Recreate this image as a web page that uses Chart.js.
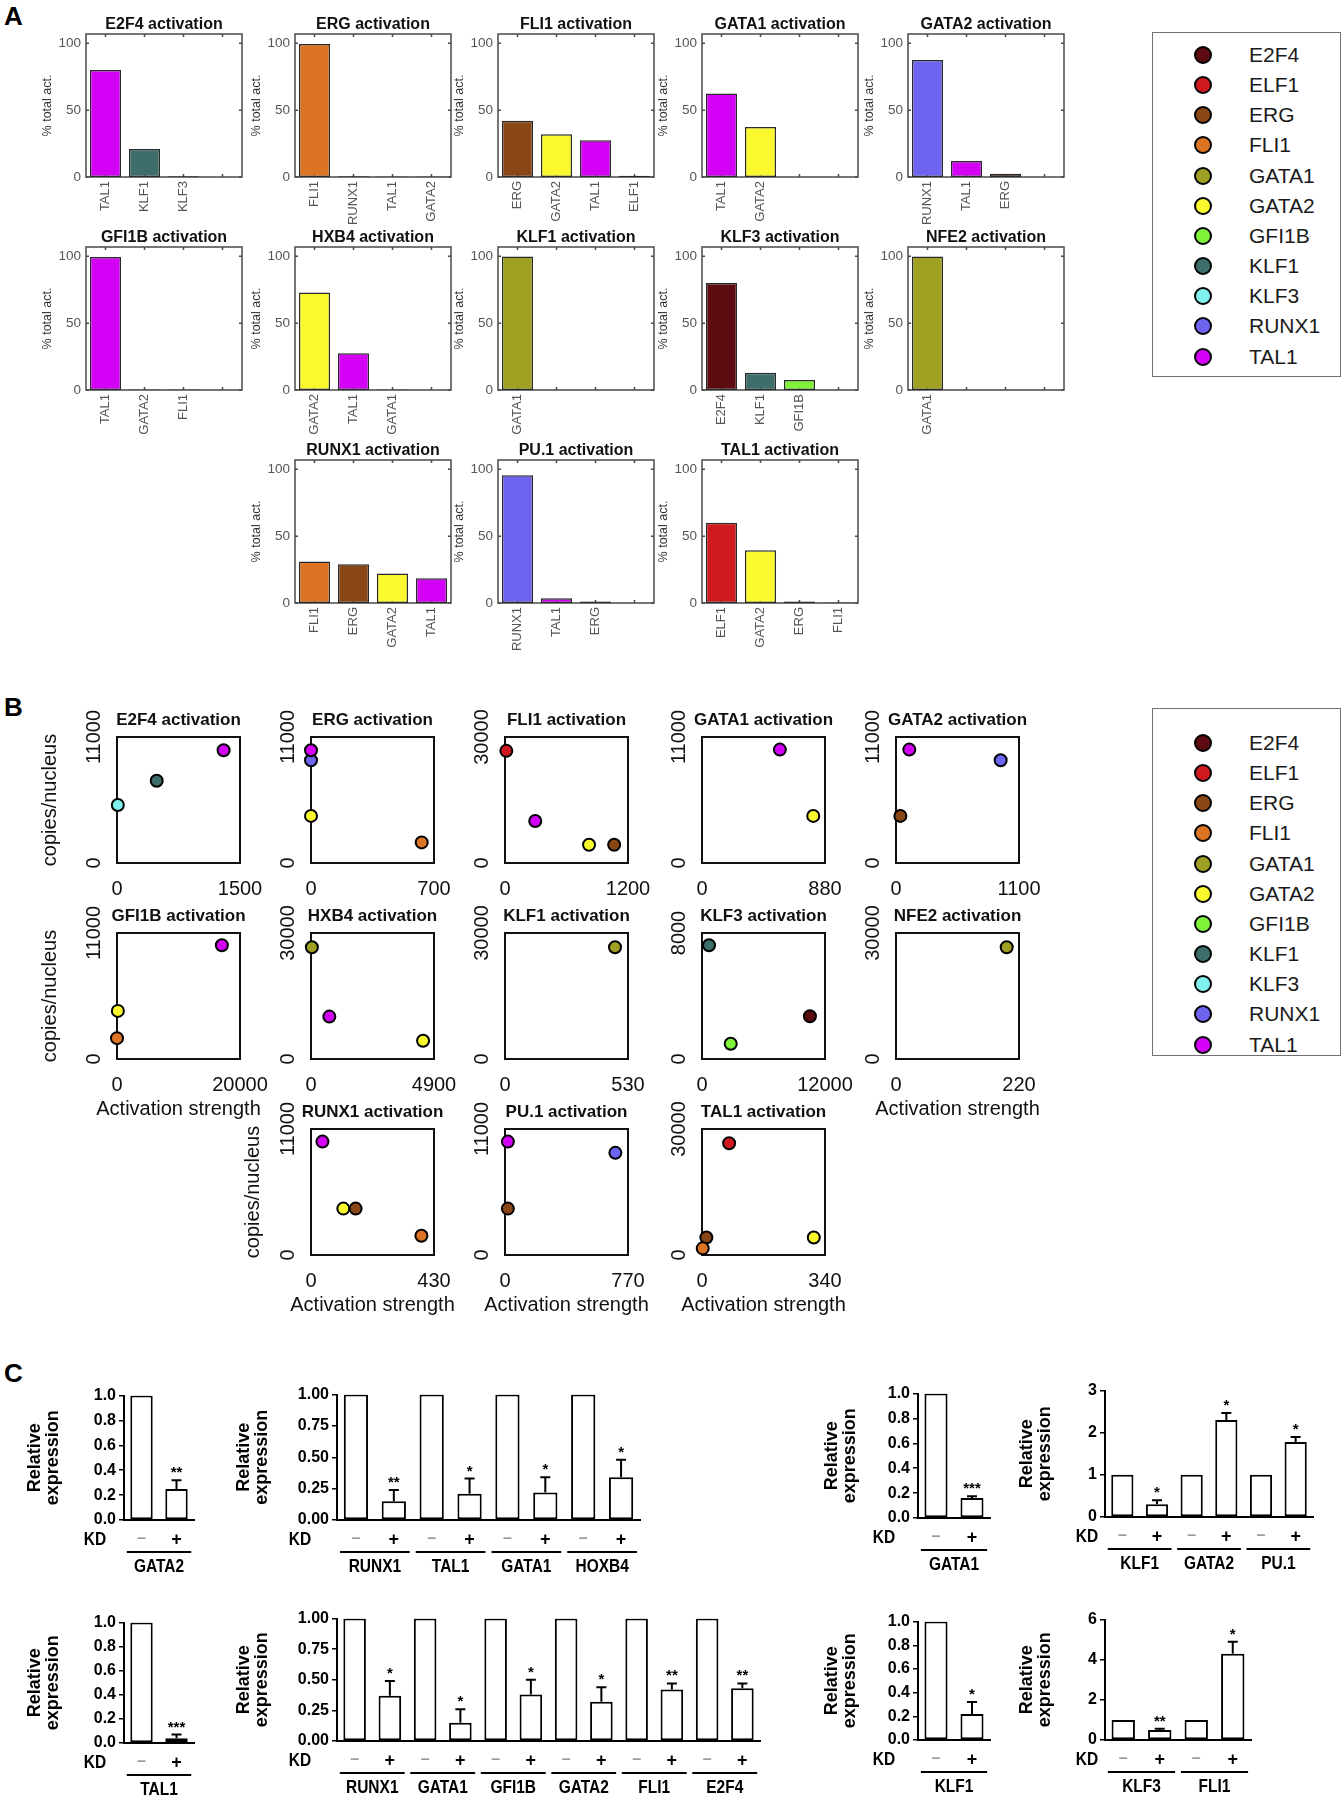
<!DOCTYPE html>
<html lang="en">
<head>
<meta charset="utf-8">
<title>Regulator activation and knockdown</title>
<script src="https://cdn.jsdelivr.net/npm/chart.js@4.4.1/dist/chart.umd.min.js"></script>
<style>
  html, body { margin: 0; background: #fff; }
  #page { position: relative; width: 1343px; height: 1800px; overflow: hidden;
          font-family: "Liberation Sans", Arial, Helvetica, sans-serif; color: #000; }
  .tag { position: absolute; left: 4px; font-size: 26px; line-height: 26px; font-weight: bold; }
  canvas.plot { position: absolute; }
  .legend { position: absolute; left: 1152px; width: 189px; border: 1.5px solid #707070; box-sizing: border-box; }
  .legend .row { position: absolute; left: 0; height: 0; }
  .legend .dot { position: absolute; left: 41px; top: -9px; width: 14px; height: 14px;
                 border: 2px solid #000; border-radius: 50%; }
  .legend .name { position: absolute; left: 96px; top: -12px; font-size: 21px; line-height: 24px;
                  white-space: nowrap; color: #1a1a1a; }
</style>
</head>
<body>
<div id="page">
  <div class="tag" style="top:3px">A</div>
  <div class="tag" style="top:694px">B</div>
  <div class="tag" style="top:1360px">C</div>
</div>
<script>
// ─── Regulators and colours ───────────────────────────────────────────────────
const factors = ['E2F4', 'ELF1', 'ERG', 'FLI1', 'GATA1', 'GATA2', 'GFI1B', 'KLF1', 'KLF3', 'RUNX1', 'TAL1'];
const factorColors = ['#5c0b10', '#d11a1f', '#8a4716', '#dd7424', '#a0a022', '#f9f92e',
                      '#7ff23a', '#3d6e6c', '#7ff0ef', '#6e64f0', '#d400f5'];

// ─── Panel A: % of total activation ───────────────────────────────────────────
const aE2F4Regs  = ['TAL1', 'KLF1', 'KLF3'];           const aE2F4Pct  = [80, 21, 0.5];
const aErgRegs   = ['FLI1', 'RUNX1', 'TAL1', 'GATA2'];  const aErgPct   = [99.5, 0.5, 0.4, 0.4];
const aFli1Regs  = ['ERG', 'GATA2', 'TAL1', 'ELF1'];    const aFli1Pct  = [42, 32, 27.5, 1];
const aGata1Regs = ['TAL1', 'GATA2'];                   const aGata1Pct = [62.5, 37.5];
const aGata2Regs = ['RUNX1', 'TAL1', 'ERG'];            const aGata2Pct = [87.5, 12, 2.5];
const aGfi1bRegs = ['TAL1', 'GATA2', 'FLI1'];           const aGfi1bPct = [99.6, 0.3, 0.3];
const aHxb4Regs  = ['GATA2', 'TAL1', 'GATA1'];          const aHxb4Pct  = [73, 27.5, 0.4];
const aKlf1Regs  = ['GATA1'];                           const aKlf1Pct  = [99.8];
const aKlf3Regs  = ['E2F4', 'KLF1', 'GFI1B'];           const aKlf3Pct  = [80, 13, 7.5];
const aNfe2Regs  = ['GATA1'];                           const aNfe2Pct  = [99.8];
const aRunx1Regs = ['FLI1', 'ERG', 'GATA2', 'TAL1'];    const aRunx1Pct = [31, 29, 22, 18.5];
const aPu1Regs   = ['RUNX1', 'TAL1', 'ERG'];            const aPu1Pct   = [95.5, 3.5, 1.2];
const aTal1Regs  = ['ELF1', 'GATA2', 'ERG', 'FLI1'];    const aTal1Pct  = [60, 39.5, 1.2, 0.4];
const aTicks = [0, 50, 100];

// ─── Panel B: activation strength vs copies/nucleus ───────────────────────────
const bE2F4Regs  = ['KLF3', 'KLF1', 'TAL1'];          const bE2F4Act  = [10, 484, 1300];     const bE2F4Copies  = [5070, 7180, 9840];
const bErgRegs   = ['GATA2', 'RUNX1', 'TAL1', 'FLI1']; const bErgAct   = [0, 0, 0, 630];       const bErgCopies   = [4110, 8970, 9840, 1800];
const bFli1Regs  = ['ELF1', 'TAL1', 'GATA2', 'ERG'];  const bFli1Act  = [13, 295, 820, 1065]; const bFli1Copies  = [26700, 10000, 4340, 4340];
const bGata1Regs = ['TAL1', 'GATA2'];                 const bGata1Act = [557, 796];           const bGata1Copies = [9900, 4110];
const bGata2Regs = ['TAL1', 'RUNX1', 'ERG'];          const bGata2Act = [119, 936, 39];       const bGata2Copies = [9900, 8970, 4110];
const bGfi1bRegs = ['TAL1', 'GATA2', 'FLI1'];         const bGfi1bAct = [17050, 140, 0];      const bGfi1bCopies = [9930, 4200, 1820];
const bHxb4Regs  = ['GATA1', 'TAL1', 'GATA2'];        const bHxb4Act  = [35, 730, 4465];      const bHxb4Copies  = [26600, 10100, 4340];
const bKlf1Regs  = ['GATA1'];                         const bKlf1Act  = [474];                const bKlf1Copies  = [26600];
const bKlf3Regs  = ['KLF1', 'E2F4', 'GFI1B'];         const bKlf3Act  = [685, 10530, 2800];   const bKlf3Copies  = [7220, 2710, 970];
const bNfe2Regs  = ['GATA1'];                         const bNfe2Act  = [198];                const bNfe2Copies  = [26600];
const bRunx1Regs = ['TAL1', 'GATA2', 'ERG', 'FLI1'];  const bRunx1Act = [40, 113, 156, 386]; const bRunx1Copies = [9900, 4050, 4050, 1680];
const bPu1Regs   = ['TAL1', 'RUNX1', 'ERG'];          const bPu1Act   = [18, 691, 18];        const bPu1Copies   = [9900, 8920, 4050];
const bTal1Regs  = ['ELF1', 'ERG', 'FLI1', 'GATA2'];  const bTal1Act  = [75, 12, 2, 309];     const bTal1Copies  = [26600, 4180, 1580, 4180];
// axis limits [activation max, copies max]
const bE2F4Lim = [1500, 11000];  const bErgLim  = [700, 11000];   const bFli1Lim  = [1200, 30000];
const bGata1Lim = [880, 11000];  const bGata2Lim = [1100, 11000]; const bGfi1bLim = [20000, 11000];
const bHxb4Lim = [4900, 30000];  const bKlf1Lim = [530, 30000];   const bKlf3Lim  = [12000, 8000];
const bNfe2Lim = [220, 30000];   const bRunx1Lim = [430, 11000];  const bPu1Lim   = [770, 11000];
const bTal1Lim = [340, 30000];

// ─── Panel C: relative expression, control (–) vs knockdown (+) ──────────────
const cGata2Genes = ['GATA2'];                           const cGata2Ctrl = [1];          const cGata2Kd = [0.25];         const cGata2Err = [0.07];         const cGata2Sig = ['**'];
const cMixAGenes  = ['RUNX1', 'TAL1', 'GATA1', 'HOXB4']; const cMixACtrl  = [1, 1, 1, 1];  const cMixAKd  = [0.15, 0.21, 0.22, 0.34]; const cMixAErr = [0.09, 0.12, 0.12, 0.14]; const cMixASig = ['**', '*', '*', '*'];
const cTal1Genes  = ['TAL1'];                            const cTal1Ctrl  = [1];          const cTal1Kd  = [0.04];         const cTal1Err  = [0.03];         const cTal1Sig  = ['***'];
const cMixBGenes  = ['RUNX1', 'GATA1', 'GFI1B', 'GATA2', 'FLI1', 'E2F4'];
const cMixBCtrl   = [1, 1, 1, 1, 1, 1];
const cMixBKd     = [0.37, 0.15, 0.38, 0.32, 0.42, 0.43];
const cMixBErr    = [0.12, 0.11, 0.12, 0.12, 0.05, 0.04];
const cMixBSig    = ['*', '*', '*', '*', '**', '**'];
const cGata1Genes = ['GATA1'];                           const cGata1Ctrl = [1];          const cGata1Kd = [0.16];         const cGata1Err = [0.015];        const cGata1Sig = ['***'];
const cMixCGenes  = ['KLF1', 'GATA2', 'PU.1'];           const cMixCCtrl  = [1, 1, 1];    const cMixCKd  = [0.3, 2.3, 1.78]; const cMixCErr = [0.1, 0.17, 0.12]; const cMixCSig = ['*', '*', '*'];
const cKlf1Genes  = ['KLF1'];                            const cKlf1Ctrl  = [1];          const cKlf1Kd  = [0.22];         const cKlf1Err  = [0.1];          const cKlf1Sig  = ['*'];
const cMixDGenes  = ['KLF3', 'FLI1'];                    const cMixDCtrl  = [1, 1];       const cMixDKd  = [0.5, 4.3];     const cMixDErr  = [0.06, 0.6];    const cMixDSig  = ['**', '*'];

// ─── Shared setup ─────────────────────────────────────────────────────────────
const SANS = '"Liberation Sans", Arial, Helvetica, sans-serif';
const page = document.getElementById('page');
const colorOf = name => factorColors[factors.indexOf(name)];

Chart.defaults.font.family = SANS;
Chart.defaults.color = '#000';
Chart.defaults.animation = false;
Chart.defaults.responsive = false;
Chart.defaults.devicePixelRatio = 1;
Chart.defaults.plugins.legend.display = false;
Chart.defaults.plugins.tooltip.enabled = false;

function makeCanvas(left, top, w, h, T, R, B, L) {
  const c = document.createElement('canvas');
  c.className = 'plot';
  c.width = w + L + R;
  c.height = h + T + B;
  c.style.left = (left - L) + 'px';
  c.style.top = (top - T) + 'px';
  c.style.width = c.width + 'px';
  c.style.height = c.height + 'px';
  page.appendChild(c);
  return c;
}

// frame, inner ticks, titles, rotated y labels
const decor = {
  id: 'decor',
  beforeDatasetsDraw(chart, args, o) {
    const { ctx, chartArea: a } = chart;
    ctx.save();
    ctx.strokeStyle = o.frame || '#000';
    ctx.lineWidth = o.frameWidth || 1.5;
    ctx.strokeRect(a.left, a.top, a.right - a.left, a.bottom - a.top);
    if (o.innerTicks) {
      const xs = chart.scales.x, ys = chart.scales.y, len = o.innerTicks;
      ctx.beginPath();
      xs.ticks.forEach((t, i) => {
        const px = xs.getPixelForTick(i);
        ctx.moveTo(px, a.bottom); ctx.lineTo(px, a.bottom - len);
        ctx.moveTo(px, a.top); ctx.lineTo(px, a.top + len);
      });
      ys.ticks.forEach((t, i) => {
        const py = ys.getPixelForTick(i);
        ctx.moveTo(a.left, py); ctx.lineTo(a.left + len, py);
        ctx.moveTo(a.right, py); ctx.lineTo(a.right - len, py);
      });
      ctx.stroke();
    }
    ctx.restore();
  },
  afterDraw(chart, args, o) {
    const { ctx, chartArea: a } = chart;
    const cx = (a.left + a.right) / 2;
    ctx.save();
    ctx.textAlign = 'center';
    ctx.textBaseline = 'middle';
    ctx.fillStyle = '#111';
    if (o.title) {
      ctx.font = o.titleFont;
      ctx.fillText(o.title, cx, a.top - o.titleGap);
    }
    if (o.xTitle) {
      ctx.font = o.xTitleFont;
      ctx.fillText(o.xTitle, cx, a.bottom + o.xTitleGap);
    }
    if (o.yTickGap) {
      const ys = chart.scales.y;
      ctx.font = o.yTickFont;
      ys.ticks.forEach((t, i) => {
        ctx.save();
        ctx.translate(a.left - o.yTickGap, ys.getPixelForTick(i));
        ctx.rotate(-Math.PI / 2);
        ctx.fillText(String(t.value), 0, 0);
        ctx.restore();
      });
    }
    ctx.restore();
  }
};

// error bars, significance marks, KD row and gene groups
const kdAxis = {
  id: 'kdAxis',
  afterDatasetsDraw(chart, args, o) {
    const { ctx, chartArea: a } = chart;
    const xs = chart.scales.x, ys = chart.scales.y;
    const ds = chart.data.datasets[0];
    const squeezed = (txt, x, y) => {
      ctx.save();
      ctx.translate(x, y);
      ctx.scale(o.squeeze, 1);
      ctx.fillText(txt, 0, 0);
      ctx.restore();
    };
    ctx.save();
    ctx.strokeStyle = '#000';
    ctx.fillStyle = '#000';
    ctx.lineWidth = 2;
    ds.data.forEach((v, i) => {
      const e = ds.errors[i];
      if (!e) return;
      const px = xs.getPixelForValue(i);
      const top = ys.getPixelForValue(v + e);
      ctx.beginPath();
      ctx.moveTo(px, ys.getPixelForValue(v));
      ctx.lineTo(px, top);
      ctx.moveTo(px - o.cap, top);
      ctx.lineTo(px + o.cap, top);
      ctx.stroke();
      if (ds.marks[i]) {
        ctx.font = o.markFont;
        ctx.textAlign = 'center';
        ctx.textBaseline = 'alphabetic';
        ctx.fillText(ds.marks[i], px, top - 3);
      }
    });
    ctx.font = o.font;
    ctx.textAlign = 'center';
    ctx.textBaseline = 'middle';
    squeezed(o.kd, a.left - o.kdDx, a.bottom + o.rowGap);
    o.genes.forEach((g, i) => {
      const x0 = xs.getPixelForValue(2 * i), x1 = xs.getPixelForValue(2 * i + 1);
      const ext = (x1 - x0) * 0.42;
      ctx.beginPath();
      ctx.moveTo(x0 - ext, a.bottom + o.lineGap);
      ctx.lineTo(x1 + ext, a.bottom + o.lineGap);
      ctx.stroke();
      squeezed(g, (x0 + x1) / 2, a.bottom + o.nameGap);
    });
    ctx.restore();
  }
};

// ─── Panel A builder ──────────────────────────────────────────────────────────
const aCols = [86, 295, 498, 702, 908], aRows = [34, 247, 460], aW = 156, aH = 143;

function barA(col, row, title, regs, pct) {
  const T = 30, R = 10, B = 50, L = 62;
  const c = makeCanvas(aCols[col], aRows[row], aW, aH, T, R, B, L);
  const labels = regs.concat(Array(4 - regs.length).fill(''));
  new Chart(c, {
    type: 'bar',
    data: {
      labels,
      datasets: [{
        data: pct, backgroundColor: regs.map(colorOf), borderColor: '#2a2a2a', borderWidth: 1.5,
        borderSkipped: false, barPercentage: 0.8, categoryPercentage: 1
      }]
    },
    options: {
      layout: { padding: { top: T, right: R, bottom: 0, left: 0 } },
      scales: {
        x: {
          grid: { display: false, drawTicks: false }, border: { display: false },
          ticks: { autoSkip: false, minRotation: 90, maxRotation: 90, padding: 4, color: '#555', font: { size: 13 } },
          afterFit: s => { s.height = B; }
        },
        y: {
          min: 0, max: 107,
          afterBuildTicks: s => { s.ticks = aTicks.map(v => ({ value: v })); },
          grid: { display: false, drawTicks: false }, border: { display: false },
          ticks: { padding: 5, color: '#555', font: { size: 13.5 } },
          title: { display: true, text: '% total act.', color: '#333', font: { size: 12.5 }, padding: { top: 16, bottom: 0 } },
          afterFit: s => { s.width = L; }
        }
      },
      plugins: {
        decor: { title, titleGap: 9, titleFont: `bold 16px ${SANS}`, frame: '#4a4a4a', frameWidth: 1.5, innerTicks: 3 }
      }
    },
    plugins: [decor]
  });
}

barA(0, 0, 'E2F4 activation', aE2F4Regs, aE2F4Pct);
barA(1, 0, 'ERG activation', aErgRegs, aErgPct);
barA(2, 0, 'FLI1 activation', aFli1Regs, aFli1Pct);
barA(3, 0, 'GATA1 activation', aGata1Regs, aGata1Pct);
barA(4, 0, 'GATA2 activation', aGata2Regs, aGata2Pct);
barA(0, 1, 'GFI1B activation', aGfi1bRegs, aGfi1bPct);
barA(1, 1, 'HXB4 activation', aHxb4Regs, aHxb4Pct);
barA(2, 1, 'KLF1 activation', aKlf1Regs, aKlf1Pct);
barA(3, 1, 'KLF3 activation', aKlf3Regs, aKlf3Pct);
barA(4, 1, 'NFE2 activation', aNfe2Regs, aNfe2Pct);
barA(1, 2, 'RUNX1 activation', aRunx1Regs, aRunx1Pct);
barA(2, 2, 'PU.1 activation', aPu1Regs, aPu1Pct);
barA(3, 2, 'TAL1 activation', aTal1Regs, aTal1Pct);

// ─── Panel B builder ──────────────────────────────────────────────────────────
const bCols = [117, 311, 505, 702, 896], bRows = [737, 933, 1129], bW = 123, bH = 126;

function scatterB(col, row, title, regs, act, copies, lim, opt) {
  const hasY = opt.yTitlePad !== undefined;
  const T = 32, R = 45, B = 66, L = hasY ? 80 : 45;
  const c = makeCanvas(bCols[col], bRows[row], bW, bH, T, R, B, L);
  new Chart(c, {
    type: 'scatter',
    data: {
      datasets: [{
        data: act.map((x, i) => ({ x, y: copies[i] })),
        pointRadius: 6, pointBorderWidth: 2, pointBorderColor: '#000',
        pointBackgroundColor: regs.map(colorOf), clip: false
      }]
    },
    options: {
      layout: { padding: { top: T, right: R, bottom: 0, left: 0 } },
      scales: {
        x: {
          type: 'linear', min: 0, max: lim[0],
          afterBuildTicks: s => { s.ticks = [{ value: 0 }, { value: lim[0] }]; },
          grid: { display: false, drawTicks: false }, border: { display: false },
          ticks: { callback: v => String(v), maxRotation: 0, autoSkip: false, padding: 14, color: '#111', font: { size: 20 } },
          afterFit: s => { s.height = B; }
        },
        y: {
          type: 'linear', min: 0, max: lim[1],
          afterBuildTicks: s => { s.ticks = [{ value: 0 }, { value: lim[1] }]; },
          grid: { display: false, drawTicks: false }, border: { display: false },
          ticks: { display: false },
          title: { display: hasY, text: 'copies/nucleus', color: '#111', font: { size: 20 },
                   padding: { top: hasY ? opt.yTitlePad : 0, bottom: 0 } },
          afterFit: s => { s.width = L; }
        }
      },
      plugins: {
        decor: {
          title, titleGap: 17, titleFont: `bold 17px ${SANS}`, frame: '#111', frameWidth: 2,
          xTitle: opt.xTitle ? 'Activation strength' : '', xTitleGap: 50, xTitleFont: `20px ${SANS}`,
          yTickGap: 23, yTickFont: `20px ${SANS}`
        }
      }
    },
    plugins: [decor]
  });
}

scatterB(0, 0, 'E2F4 activation', bE2F4Regs, bE2F4Act, bE2F4Copies, bE2F4Lim, { yTitlePad: 1 });
scatterB(1, 0, 'ERG activation', bErgRegs, bErgAct, bErgCopies, bErgLim, {});
scatterB(2, 0, 'FLI1 activation', bFli1Regs, bFli1Act, bFli1Copies, bFli1Lim, {});
scatterB(3, 0, 'GATA1 activation', bGata1Regs, bGata1Act, bGata1Copies, bGata1Lim, {});
scatterB(4, 0, 'GATA2 activation', bGata2Regs, bGata2Act, bGata2Copies, bGata2Lim, {});
scatterB(0, 1, 'GFI1B activation', bGfi1bRegs, bGfi1bAct, bGfi1bCopies, bGfi1bLim, { yTitlePad: 1, xTitle: true });
scatterB(1, 1, 'HXB4 activation', bHxb4Regs, bHxb4Act, bHxb4Copies, bHxb4Lim, {});
scatterB(2, 1, 'KLF1 activation', bKlf1Regs, bKlf1Act, bKlf1Copies, bKlf1Lim, {});
scatterB(3, 1, 'KLF3 activation', bKlf3Regs, bKlf3Act, bKlf3Copies, bKlf3Lim, {});
scatterB(4, 1, 'NFE2 activation', bNfe2Regs, bNfe2Act, bNfe2Copies, bNfe2Lim, { xTitle: true });
scatterB(1, 2, 'RUNX1 activation', bRunx1Regs, bRunx1Act, bRunx1Copies, bRunx1Lim, { yTitlePad: 10, xTitle: true });
scatterB(2, 2, 'PU.1 activation', bPu1Regs, bPu1Act, bPu1Copies, bPu1Lim, { xTitle: true });
scatterB(3, 2, 'TAL1 activation', bTal1Regs, bTal1Act, bTal1Copies, bTal1Lim, { xTitle: true });

// ─── Legends ──────────────────────────────────────────────────────────────────
function legend(top, height, firstY) {
  const box = document.createElement('div');
  box.className = 'legend';
  box.style.top = top + 'px';
  box.style.height = height + 'px';
  factors.forEach((f, i) => {
    const row = document.createElement('div');
    row.className = 'row';
    row.style.top = (firstY - top + i * 30.15) + 'px';
    row.innerHTML = `<span class="dot" style="background:${factorColors[i]}"></span><span class="name">${f}</span>`;
    box.appendChild(row);
  });
  page.appendChild(box);
}
legend(32, 345, 54);
legend(708, 348, 742);

// ─── Panel C builder ──────────────────────────────────────────────────────────
function kdBars(box, genes, ctrl, kd, err, sig, ax) {
  const T = 12, R = 12, B = 62, L = 104;
  const c = makeCanvas(box[0], box[1], box[2], box[3], T, R, B, L);
  const labels = [], values = [], errors = [], marks = [];
  genes.forEach((g, i) => {
    labels.push('–', '+');
    values.push(ctrl[i], kd[i]);
    errors.push(0, err[i]);
    marks.push('', sig[i]);
  });
  const isPlus = cx => cx.tick && cx.tick.label === '+';
  new Chart(c, {
    type: 'bar',
    data: {
      labels,
      datasets: [{
        data: values, errors, marks, backgroundColor: '#fff', borderColor: '#000', borderWidth: 2,
        borderSkipped: false, barPercentage: 0.64, categoryPercentage: 1
      }]
    },
    options: {
      layout: { padding: { top: T, right: R, bottom: 0, left: 0 } },
      scales: {
        x: {
          grid: { display: false, drawTicks: false },
          border: { display: true, color: '#000', width: 2 },
          ticks: {
            autoSkip: false, maxRotation: 0, padding: 9,
            color: cx => isPlus(cx) ? '#000' : '#9a9a9a',
            font: cx => ({ weight: 'bold', size: isPlus(cx) ? 18 : 16 })
          },
          afterFit: s => { s.height = B; }
        },
        y: {
          min: 0, max: ax.max,
          ticks: { stepSize: ax.step, callback: v => v.toFixed(ax.dec), padding: 3, color: '#000',
                   font: { weight: 'bold', size: 16 } },
          grid: { display: true, drawOnChartArea: false, drawTicks: true, tickLength: 5, color: '#000', lineWidth: 1.5 },
          border: { display: true, color: '#000', width: 2 },
          title: { display: true, text: ['Relative', 'expression'], color: '#000',
                   font: { weight: 'bold', size: 18, lineHeight: 1.0 },
                   padding: { top: ax.titlePad, bottom: 0 } },
          afterFit: s => { s.width = L; }
        }
      },
      plugins: {
        kdAxis: { genes, kd: 'KD', kdDx: ax.kdDx, rowGap: 20, lineGap: 32, nameGap: 47, cap: 5, squeeze: 0.86,
                  font: `bold 18px ${SANS}`, markFont: `bold 15px ${SANS}` }
      }
    },
    plugins: [kdAxis]
  });
}

kdBars([124, 1395, 70, 125], cGata2Genes, cGata2Ctrl, cGata2Kd, cGata2Err, cGata2Sig, { max: 1, step: 0.2, dec: 1, kdDx: 29, titlePad: 6 });
kdBars([337, 1394, 303, 126], cMixAGenes, cMixACtrl, cMixAKd, cMixAErr, cMixASig, { max: 1, step: 0.25, dec: 2, kdDx: 37, titlePad: 2 });
kdBars([124, 1622, 70, 121], cTal1Genes, cTal1Ctrl, cTal1Kd, cTal1Err, cTal1Sig, { max: 1, step: 0.2, dec: 1, kdDx: 29, titlePad: 6 });
kdBars([337, 1618, 423, 123], cMixBGenes, cMixBCtrl, cMixBKd, cMixBErr, cMixBSig, { max: 1, step: 0.25, dec: 2, kdDx: 37, titlePad: 2 });
kdBars([918, 1393, 72, 125], cGata1Genes, cGata1Ctrl, cGata1Kd, cGata1Err, cGata1Sig, { max: 1, step: 0.2, dec: 1, kdDx: 34, titlePad: 9 });
kdBars([1105, 1390, 208, 127], cMixCGenes, cMixCCtrl, cMixCKd, cMixCErr, cMixCSig, { max: 3, step: 1, dec: 0, kdDx: 18, titlePad: 17 });
kdBars([918, 1621, 72, 119], cKlf1Genes, cKlf1Ctrl, cKlf1Kd, cKlf1Err, cKlf1Sig, { max: 1, step: 0.2, dec: 1, kdDx: 34, titlePad: 9 });
kdBars([1105, 1619, 146, 121], cMixDGenes, cMixDCtrl, cMixDKd, cMixDErr, cMixDSig, { max: 6, step: 2, dec: 0, kdDx: 18, titlePad: 17 });
</script>
</body>
</html>
